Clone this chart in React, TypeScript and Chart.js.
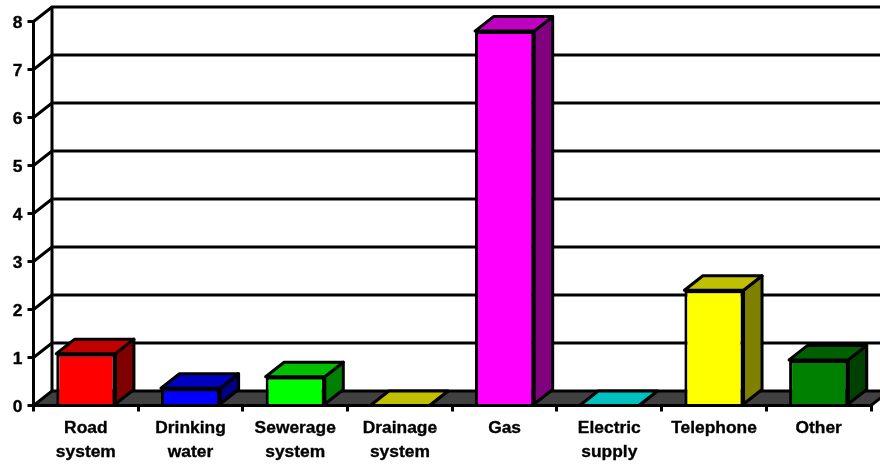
import React, { useEffect, useRef } from "react";
import { Chart, registerables } from "chart.js";

Chart.register(...registerables);

const categories = [
  ["Road", "system"],
  ["Drinking", "water"],
  ["Sewerage", "system"],
  ["Drainage", "system"],
  ["Gas"],
  ["Electric", "supply"],
  ["Telephone"],
  ["Other"],
];
const values = [1.08, 0.36, 0.6, 0, 7.8, 0, 2.4, 0.95];
const frontColors = ["#ff0000", "#0000ff", "#00ff00", "#ffff00", "#ff00ff", "#00ffff", "#ffff00", "#008000"];
const topColors = ["#c00000", "#0000c0", "#00c000", "#c0c000", "#c000c0", "#00c0c0", "#c0c000", "#006000"];
const sideColors = ["#800000", "#000080", "#008000", "#808000", "#800080", "#008080", "#808000", "#004000"];

const DEPTH_X = 18.5;
const DEPTH_Y = 14.5;
const LINE = 3;
const FLOOR = "#404040";

function polygon(ctx: CanvasRenderingContext2D, pts: number[][], fill?: string) {
  ctx.beginPath();
  pts.forEach(([x, y], i) => (i ? ctx.lineTo(x, y) : ctx.moveTo(x, y)));
  ctx.closePath();
  if (fill) {
    ctx.fillStyle = fill;
    ctx.fill();
  }
  ctx.stroke();
}

// Back wall, floor and receding grid lines sit behind the bars.
const backdrop = {
  id: "backdrop",
  beforeDatasetsDraw(chart: any) {
    const { ctx, scales } = chart;
    const { x, y } = scales;
    const left = x.left;
    const right = x.right;
    const zero = y.getPixelForValue(0);
    ctx.save();
    ctx.strokeStyle = "#000";
    ctx.lineWidth = LINE;
    polygon(ctx, [
      [left, zero],
      [right, zero],
      [right + DEPTH_X, zero - DEPTH_Y],
      [left + DEPTH_X, zero - DEPTH_Y],
    ], FLOOR);
    y.ticks.forEach((t: any) => {
      if (t.value === 0) return;
      const py = y.getPixelForValue(t.value);
      ctx.beginPath();
      ctx.moveTo(left, py);
      ctx.lineTo(left + DEPTH_X, py - DEPTH_Y);
      ctx.lineTo(right + DEPTH_X, py - DEPTH_Y);
      ctx.stroke();
    });
    ctx.beginPath();
    ctx.moveTo(left + DEPTH_X, zero - DEPTH_Y);
    ctx.lineTo(left + DEPTH_X, y.getPixelForValue(8) - DEPTH_Y);
    ctx.stroke();
    ctx.restore();
  },
};

// Top and side faces of each column, built from the bar's own geometry.
const columnFaces = {
  id: "columnFaces",
  afterDatasetsDraw(chart: any) {
    const { ctx } = chart;
    const meta = chart.getDatasetMeta(0);
    ctx.save();
    ctx.strokeStyle = "#000";
    ctx.lineWidth = LINE;
    ctx.lineJoin = "round";
    meta.data.forEach((bar: any, i: number) => {
      const { x, y, base, width } = bar.getProps(["x", "y", "base", "width"], true);
      const l = x - width / 2;
      const r = x + width / 2;
      polygon(ctx, [
        [r, y],
        [r + DEPTH_X, y - DEPTH_Y],
        [r + DEPTH_X, base - DEPTH_Y],
        [r, base],
      ], sideColors[i]);
      polygon(ctx, [
        [l, y],
        [l + DEPTH_X, y - DEPTH_Y],
        [r + DEPTH_X, y - DEPTH_Y],
        [r, y],
      ], topColors[i]);
    });
    ctx.restore();
  },
};

export default function App() {
  const ref = useRef<HTMLCanvasElement>(null);

  useEffect(() => {
    const font = { family: "'Liberation Sans', Arial, sans-serif", size: 17.4, weight: "bold" as const };
    const chart = new Chart(ref.current!, {
      type: "bar",
      data: {
        labels: categories,
        datasets: [
          {
            data: values,
            backgroundColor: frontColors,
            borderColor: "#000",
            borderWidth: 3,
            barPercentage: 0.565,
            categoryPercentage: 1,
          },
        ],
      },
      options: {
        responsive: false,
        animation: false,
        layout: { padding: { top: 21.5, right: 9, left: 0, bottom: 0 } },
        plugins: { legend: { display: false }, tooltip: { enabled: false } },
        scales: {
          x: {
            afterFit: (s: any) => {
              s.height = 58.5;
            },
            grid: { drawOnChartArea: false, drawTicks: true, tickLength: 6, color: "#000", lineWidth: LINE },
            border: { color: "#000", width: LINE },
            ticks: {
              color: "#000",
              font: { ...font, lineHeight: 1.38 },
              padding: 5,
              maxRotation: 0,
              autoSkip: false,
              textStrokeColor: "#000",
              textStrokeWidth: 0.35,
            },
          },
          y: {
            min: 0,
            max: 8,
            afterFit: (s: any) => {
              s.width = 33.5;
            },
            grid: { drawOnChartArea: false, drawTicks: true, tickLength: 6, color: "#000", lineWidth: LINE },
            border: { color: "#000", width: LINE },
            ticks: {
              stepSize: 1,
              color: "#000",
              font,
              padding: 5,
              labelOffset: 1.5,
              textStrokeColor: "#000",
              textStrokeWidth: 0.35,
            },
          },
        },
      },
      plugins: [backdrop, columnFaces],
    });
    return () => chart.destroy();
  }, []);

  return (
    <div style={{ position: "fixed", inset: 0, background: "#fff" }}>
      <canvas ref={ref} width={880} height={464} style={{ display: "block" }} />
    </div>
  );
}
